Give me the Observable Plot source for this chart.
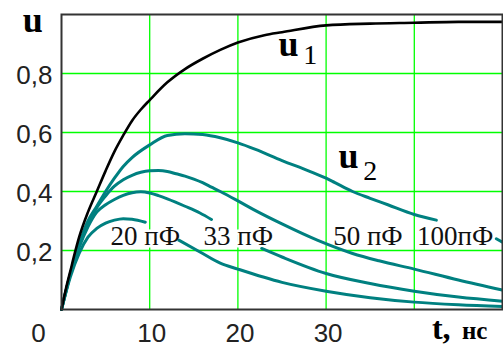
<!DOCTYPE html>
<html><head><meta charset="utf-8">
<script src="https://cdn.jsdelivr.net/npm/d3@7"></script>
<script src="https://cdn.jsdelivr.net/npm/@observablehq/plot@0.6"></script>
<style>html,body{margin:0;padding:0;background:#fff}svg{display:block}</style>
</head><body><div id="chart"></div>
<script>
// u1 (black)
const tU1 = [0,0.5,1,1.5,2,3,4,5,6,7,8,9,10,12,14,16,18,20,23,25,30,35,40,45,50];
const uU1 = [0,0.07,0.13,0.19,0.245,0.33,0.40,0.47,0.535,0.59,0.64,0.678,0.71,0.77,0.815,0.85,0.88,0.905,0.93,0.94,0.963,0.969,0.972,0.975,0.975];
// u2 for 20 pF
const t20 = [0,1,2,3,4,5,6,7,8,9.5,11,13.3,15.7,18,20,25,30,35,40,45,50];
const u20 = [0,0.11,0.19,0.245,0.275,0.293,0.303,0.308,0.306,0.296,NaN,0.235,0.195,0.157,0.137,0.092,0.062,0.04,0.025,0.016,0.01];
// u2 for 33 pF
const t33 = [0,1,2,3,4,5,6,7,8,9,10,11,12,14,15.7,17,19.5,22.7,25,30,35,40,45,50];
const u33 = [0,0.12,0.21,0.28,0.33,0.355,0.373,0.387,0.396,0.399,0.395,0.386,0.375,0.35,0.327,0.305,NaN,0.207,0.178,0.122,0.088,0.062,0.042,0.028];
// u2 for 50 pF
const t50 = [0,1,2,3,4,5,6,7,8,9,10,11,12,13,14,15,16,17,18,20,22,25,29,33,36,40,45,50];
const u50 = [0,0.12,0.22,0.29,0.345,0.385,0.418,0.44,0.455,0.465,0.47,0.471,0.468,0.46,0.452,0.442,0.43,0.415,0.40,0.368,0.335,0.29,0.235,0.19,0.165,0.137,0.10,0.066];
// u2 for 100 pF
const t100 = [0,1,2,3,4,5,6,7,8,10,12,14,16,18,20,22,25,28,30,31,33,35,37,40,42.5,46,49.3,50];
const u100 = [0,0.12,0.22,0.30,0.35,0.40,0.445,0.485,0.515,0.558,0.59,0.596,0.593,0.582,0.565,0.543,0.505,0.47,0.445,0.43,0.40,0.377,0.355,0.322,0.303,NaN,0.24,0.228];

const capNames = ["20 пФ","33 пФ","50 пФ","100пФ"];
const capLabelT = [5.55,16.1,30.8,40.3];
const capLabelU = [0.218,0.218,0.218,0.218];

const xTickValues = [10,20,30];
const yTickValues = [0.2,0.4,0.6,0.8];
const gridXValues = [10,20,30,40];
const gridYValues = [0.2,0.4,0.6,0.8];

const uTitleT = [-4.4,24.6,31.4];
const uTitleU = [0.94,0.859,0.48];
const subText = ["1","2"];
const subT = [27.4,34.2];
const subU = [0.831,0.44];

const rows = (name, ts, us) => ts.map((t, i) => ({name, t, u: us[i]}));
const blackRows = rows("u1", tU1, uU1);
const tealRows = [
  ...rows(capNames[0], t20, u20),
  ...rows(capNames[1], t33, u33),
  ...rows(capNames[2], t50, u50),
  ...rows(capNames[3], t100, u100)
];
const capRows = capNames.map((n, i) => ({n, t: capLabelT[i], u: capLabelU[i]}));

const sans = "'Liberation Sans', Arial, sans-serif";
const serif = "'Liberation Serif', 'Times New Roman', serif";

const chart = Plot.plot({
  width: 503, height: 347,
  marginLeft: 61, marginRight: 1, marginTop: 14, marginBottom: 38,
  x: {domain: [0, 50], axis: null},
  y: {domain: [0, 1], axis: null},
  style: {background: "white"},
  marks: [
    Plot.gridX(gridXValues, {stroke: "#00ff00", strokeOpacity: 1, strokeWidth: 1.3}),
    Plot.gridY(gridYValues, {stroke: "#00ff00", strokeOpacity: 1, strokeWidth: 1.3}),
    // white halo behind capacitance labels (hides grid lines)
    Plot.text(capRows, {x: "t", y: "u", text: "n", textAnchor: "start", lineAnchor: "bottom",
      fontFamily: serif, fontSize: 27, fill: "white", stroke: "white", strokeWidth: 5}),
    Plot.line(tealRows, {x: "t", y: "u", z: "name", stroke: "#008080", strokeWidth: 3, curve: "monotone-x"}),
    Plot.line(blackRows, {x: "t", y: "u", stroke: "#000", strokeWidth: 2.6, curve: "monotone-x"}),
    Plot.frame({stroke: "#333", strokeWidth: 2}),
    Plot.text(capRows, {x: "t", y: "u", text: "n", textAnchor: "start", lineAnchor: "bottom",
      fontFamily: serif, fontSize: 27, fill: "#111"}),
    // tick labels
    Plot.text(xTickValues, {x: d => d, frameAnchor: "bottom", lineAnchor: "bottom", dy: 32, dx: 2,
      text: d => String(d), fontFamily: sans, fontSize: 26, fill: "#222"}),
    Plot.text([0], {x: d => d, frameAnchor: "bottom", lineAnchor: "bottom", dy: 32, dx: -23,
      text: d => String(d), fontFamily: sans, fontSize: 26, fill: "#222"}),
    Plot.text(yTickValues, {y: d => d, frameAnchor: "left", textAnchor: "end", lineAnchor: "middle", dx: -9, dy: 2,
      text: d => String(d).replace(".", ","), fontFamily: sans, fontSize: 26, fill: "#222"}),
    // titles
    Plot.text(uTitleT, {x: d => d, y: (d, i) => uTitleU[i], text: () => "u", textAnchor: "start", lineAnchor: "bottom",
      fontFamily: serif, fontWeight: "bold", fontSize: 36, fill: "#000"}),
    Plot.text(subText, {x: (d, i) => subT[i], y: (d, i) => subU[i], text: d => d, textAnchor: "start", lineAnchor: "bottom",
      fontFamily: serif, fontSize: 28, fill: "#000"}),
    Plot.text(["t,"], {x: 42.0, y: -0.100, text: d => d, textAnchor: "start", lineAnchor: "bottom",
      fontFamily: serif, fontWeight: "bold", fontSize: 32, fill: "#000"}),
    Plot.text(["нс"], {x: 45.4, y: -0.100, text: d => d, textAnchor: "start", lineAnchor: "bottom",
      fontFamily: serif, fontWeight: "bold", fontSize: 25, fill: "#000"})
  ]
});
document.getElementById("chart").append(chart);
</script>
</body></html>
